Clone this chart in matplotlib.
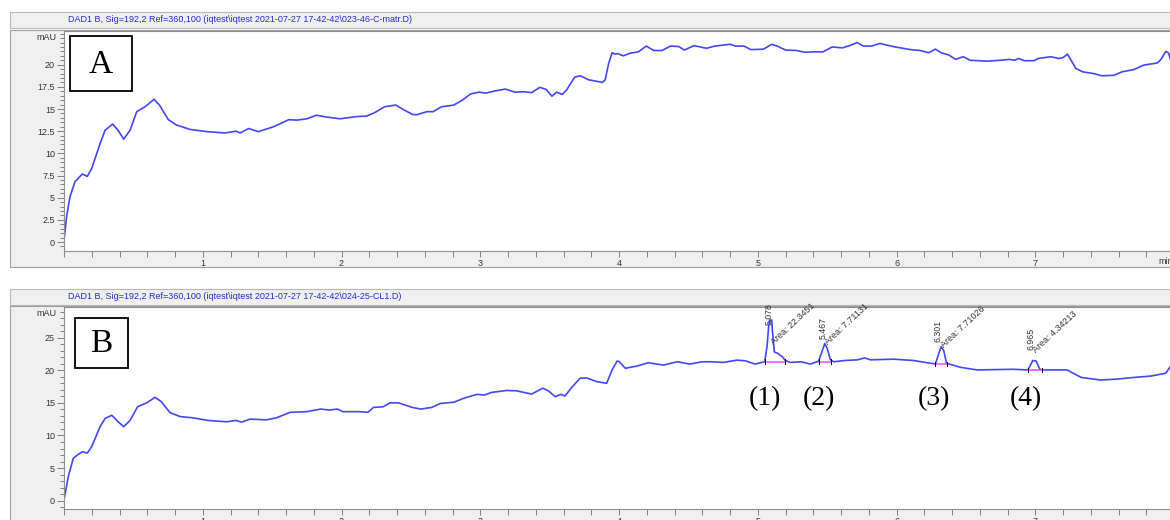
import matplotlib
matplotlib.use("Agg")
import matplotlib.pyplot as plt
from matplotlib.patches import Rectangle
from matplotlib.ticker import MultipleLocator

# chromatogram A (matrix blank)
time_a = [0, 0.019, 0.043, 0.079, 0.132, 0.168, 0.2, 0.26, 0.296, 0.35, 0.39, 0.43, 0.476, 0.524,
          0.584, 0.649, 0.69, 0.752, 0.81, 0.908, 1.03, 1.16, 1.24, 1.27, 1.33, 1.40, 1.51, 1.62,
          1.68, 1.75, 1.82, 1.89, 1.99, 2.11, 2.18, 2.24, 2.31, 2.39, 2.45, 2.51, 2.54, 2.615,
          2.66, 2.72, 2.81, 2.87, 2.93, 2.99, 3.04, 3.11, 3.18, 3.25, 3.31, 3.37, 3.43, 3.475,
          3.516, 3.55, 3.59, 3.62, 3.68, 3.72, 3.78, 3.88, 3.90, 3.925, 3.95, 3.97, 3.99, 4.03,
          4.08, 4.14, 4.196, 4.25, 4.31, 4.37, 4.43, 4.47, 4.54, 4.63, 4.69, 4.80, 4.84, 4.9,
          4.95, 5.04, 5.10, 5.14, 5.20, 5.28, 5.34, 5.40, 5.47, 5.535, 5.61, 5.67, 5.715, 5.76,
          5.82, 5.88, 5.93, 5.99, 6.10, 6.17, 6.23, 6.28, 6.32, 6.375, 6.425, 6.48, 6.53, 6.65,
          6.75, 6.81, 6.85, 6.88, 6.92, 6.99, 7.02, 7.11, 7.17, 7.2, 7.23, 7.25, 7.29, 7.34,
          7.42, 7.48, 7.565, 7.625, 7.71, 7.78, 7.88, 7.905, 7.94, 7.96, 7.975]
signal_a = [0.15, 2.9, 5.1, 6.8, 7.67, 7.4, 8.3, 11.1, 12.6, 13.3, 12.6, 11.6, 12.6, 14.7,
            15.25, 16.1, 15.4, 13.8, 13.2, 12.7, 12.45, 12.3, 12.5, 12.3, 12.8, 12.45, 13.0, 13.8,
            13.75, 13.9, 14.3, 14.1, 13.9, 14.15, 14.2, 14.6, 15.25, 15.45, 14.9, 14.4, 14.35, 14.7,
            14.7, 15.25, 15.45, 16.0, 16.7, 16.9, 16.8, 17.05, 17.25, 16.9, 16.95, 16.85, 17.45, 17.2,
            16.45, 16.9, 16.65, 17.1, 18.6, 18.75, 18.3, 18.0, 18.3, 20.15, 21.35, 21.2, 21.25, 21.0,
            21.3, 21.45, 22.1, 21.6, 21.6, 22.1, 22.05, 21.65, 22.15, 21.85, 22.1, 22.3, 22.1, 22.1,
            21.7, 21.75, 22.3, 22.1, 21.65, 21.6, 21.4, 21.45, 21.45, 22.0, 21.9, 22.2, 22.5, 22.1,
            22.1, 22.4, 22.2, 22.0, 21.7, 21.6, 21.35, 21.75, 21.35, 21.1, 20.6, 20.9, 20.5, 20.4,
            20.5, 20.6, 20.5, 20.7, 20.45, 20.45, 20.7, 20.9, 20.7, 20.8, 21.2, 20.7, 19.6, 19.2,
            19.0, 18.75, 18.8, 19.2, 19.45, 19.95, 20.2, 20.6, 21.5, 21.3, 20.5]

# chromatogram B (spiked sample)
time_b = [0, 0.031, 0.067, 0.096, 0.132, 0.168, 0.2, 0.26, 0.296, 0.344, 0.39, 0.43, 0.476, 0.53,
          0.596, 0.656, 0.70, 0.764, 0.836, 0.93, 1.04, 1.17, 1.24, 1.28, 1.34, 1.46, 1.53, 1.63,
          1.75, 1.85, 1.91, 1.97, 2.01, 2.13, 2.19, 2.23, 2.30, 2.35, 2.41, 2.51, 2.57, 2.65,
          2.71, 2.81, 2.88, 2.975, 3.03, 3.08, 3.19, 3.26, 3.37, 3.45, 3.49, 3.54, 3.58, 3.61,
          3.66, 3.72, 3.77, 3.84, 3.91, 3.95, 3.985, 4.0, 4.045, 4.13, 4.21, 4.32, 4.42, 4.51,
          4.60, 4.66, 4.75, 4.85, 4.91, 4.98, 5.049, 5.066, 5.078, 5.085, 5.10, 5.105, 5.119, 5.143,
          5.175, 5.198, 5.234, 5.31, 5.38, 5.438, 5.463, 5.482, 5.499, 5.523, 5.547, 5.63, 5.72, 5.77,
          5.81, 5.98, 6.12, 6.28, 6.304, 6.321, 6.34, 6.359, 6.388, 6.46, 6.58, 6.70, 6.84, 6.93,
          6.945, 6.965, 6.981, 7.006, 7.032, 7.06, 7.13, 7.23, 7.25, 7.33, 7.47, 7.59, 7.71, 7.83,
          7.94, 7.975]
signal_b = [0.1, 3.7, 6.5, 7.0, 7.5, 7.3, 8.3, 11.35, 12.6, 13.1, 12.1, 11.35, 12.3, 14.4,
            15.0, 15.85, 15.2, 13.5, 12.9, 12.7, 12.3, 12.1, 12.3, 12.05, 12.5, 12.4, 12.7, 13.55,
            13.65, 14.05, 13.9, 14.05, 13.65, 13.65, 13.55, 14.3, 14.4, 15.0, 15.0, 14.3, 14.05, 14.3,
            14.9, 15.1, 15.7, 16.3, 16.2, 16.6, 16.9, 16.85, 16.35, 17.25, 16.85, 15.95, 16.3, 16.05,
            17.4, 18.8, 18.8, 18.25, 18.0, 20.05, 21.4, 21.35, 20.3, 20.65, 21.15, 20.8, 21.3, 20.95,
            21.3, 21.3, 21.2, 21.55, 21.45, 20.95, 21.3, 23.6, 26.7, 27.7, 27.7, 26.0, 22.8, 22.6,
            22.1, 21.5, 21.2, 21.3, 20.95, 21.4, 22.9, 24.1, 23.4, 21.6, 21.3, 21.5, 21.6, 21.9,
            21.6, 21.7, 21.5, 20.95, 22.6, 23.6, 23.0, 21.1, 20.9, 20.45, 20.05, 20.1, 20.15, 20.05,
            20.05, 20.8, 21.5, 21.4, 20.15, 20.05, 20.05, 20.05, 19.8, 18.9, 18.5, 18.65, 18.9, 19.1,
            19.55, 20.65]

# integrated peaks in B
peak_rt = [5.078, 5.467, 6.301, 6.965]
peak_apex = [27.7, 24.1, 23.6, 21.5]
peak_area = [22.3451, 7.71131, 7.71026, 4.34213]
peak_start = [5.049, 5.438, 6.280, 6.945]
peak_end = [5.193, 5.528, 6.364, 7.049]
peak_base = [21.3, 21.3, 20.95, 20.05]
peak_names = ["(1)", "(2)", "(3)", "(4)"]

x_ticks = [1, 2, 3, 4, 5, 6, 7]

W, H = 1170, 520
LINE = "#4646f2"
BLUE_TXT = "#2a2ad0"
SANS = ["Liberation Sans", "DejaVu Sans"]
SERIF = ["Liberation Serif", "DejaVu Serif"]

fig = plt.figure(figsize=(W / 100, H / 100), dpi=100)


def px_rect(x0, y0, x1, y1, zorder=-5, **kw):
    # rectangle given in screen pixels (origin top-left)
    r = Rectangle((x0 / W, 1 - y1 / H), (x1 - x0) / W, (y1 - y0) / H,
                  transform=fig.transFigure, zorder=zorder, **kw)
    fig.patches.append(r)


def px_text(x, y, s, **kw):
    fig.text(x / W, 1 - y / H, s, **kw)


def make_axes(top, bottom, ylim, yticks, yminor, title, title_y, panel):
    px_rect(10, title_y - 8, 1178, title_y + 8, facecolor="#f0f0f0", edgecolor="#b8b8b8", lw=0.8)
    px_text(68, title_y, title, fontsize=6.5, color=BLUE_TXT, ha="left", va="center", family=SANS)
    px_rect(10, panel[0], 1178, panel[1], facecolor="#f0f0f0", edgecolor="#a0a0a0", lw=0.8)
    ax = fig.add_axes([64 / W, 1 - bottom / H, (W - 64) / W, (bottom - top) / H])
    ax.set_facecolor("white")
    ax.set_xlim(0, 7.97)
    ax.set_ylim(*ylim)
    ax.set_xticks(x_ticks)
    ax.xaxis.set_minor_locator(MultipleLocator(0.2))
    ax.set_yticks(yticks)
    ax.set_yticklabels([("%g" % v) for v in yticks])
    ax.yaxis.set_minor_locator(MultipleLocator(yminor))
    for side in ["left", "bottom", "top"]:
        ax.spines[side].set_color("#909090")
        ax.spines[side].set_linewidth(0.8)
    ax.spines["right"].set_visible(False)
    ax.tick_params(axis="both", which="both", color="#808080", width=0.7,
                   labelsize=6.5, labelcolor="#333333")
    ax.tick_params(axis="y", which="major", length=5, pad=1.5)
    ax.tick_params(axis="y", which="minor", length=3)
    ax.tick_params(axis="x", which="both", length=4, pad=2)
    for lab in ax.get_xticklabels() + ax.get_yticklabels():
        lab.set_family(SANS)
    px_text(57, top + 6, "mAU", fontsize=6.5, color="#333333", ha="right", va="center", family=SANS)
    return ax


ax_a = make_axes(31, 250.7, (-0.98, 23.8), [0, 2.5, 5, 7.5, 10, 12.5, 15, 17.5, 20], 0.5,
                 r"DAD1 B, Sig=192,2 Ref=360,100 (iqtest\iqtest 2021-07-27 17-42-42\023-46-C-matr.D)",
                 20, (30, 267))
ax_b = make_axes(307, 508.7, (-1.23, 29.7), [0, 5, 10, 15, 20, 25], 1,
                 r"DAD1 B, Sig=192,2 Ref=360,100 (iqtest\iqtest 2021-07-27 17-42-42\024-25-CL1.D)",
                 296.5, (306, 540))

ax_a.plot(time_a, signal_a, color=LINE, lw=1.2, solid_joinstyle="round")
ax_b.plot(time_b, signal_b, color=LINE, lw=1.2, solid_joinstyle="round")

px_text(1158, 261, "min", fontsize=6.5, color="#333333", ha="left", va="center", family=SANS)

# peak baselines, retention times and areas
for i in range(len(peak_rt)):
    ax_b.plot([peak_start[i], peak_end[i]], [peak_base[i], peak_base[i]], color="#ff40ff", lw=1.1)
    for xe in (peak_start[i], peak_end[i]):
        ax_b.plot([xe, xe], [peak_base[i] - 0.35, peak_base[i] + 0.35], color="black", lw=0.7)
    rt_y = min(max(peak_apex[i] + 0.7, peak_base[i] + 3.1), 27.0)
    ax_b.text(peak_rt[i], rt_y, "%g" % peak_rt[i], rotation=90, ha="center", va="bottom",
              fontsize=6.3, color="#333333", family=SANS)
    ax_b.text(peak_rt[i] + 0.05, peak_base[i] + 2.3, "Area: %g" % peak_area[i], rotation=43,
              rotation_mode="anchor", ha="left", va="bottom", fontsize=6.5, color="#333333",
              family=SANS)
    ax_b.text(peak_rt[i] - 0.03, 15.6, peak_names[i], ha="center", va="center", fontsize=20,
              family=SERIF, color="black")

# panel letters
for letter, box in [("A", (70, 36, 132, 90.7)), ("B", (75, 317.7, 128, 368.3))]:
    px_rect(*box, zorder=5, facecolor="white", edgecolor="black", lw=1.3)
    px_text((box[0] + box[2]) / 2, (box[1] + box[3]) / 2 + 1, letter, fontsize=24, family=SERIF,
            ha="center", va="center", zorder=6)

fig.savefig("out.png", dpi=100)
